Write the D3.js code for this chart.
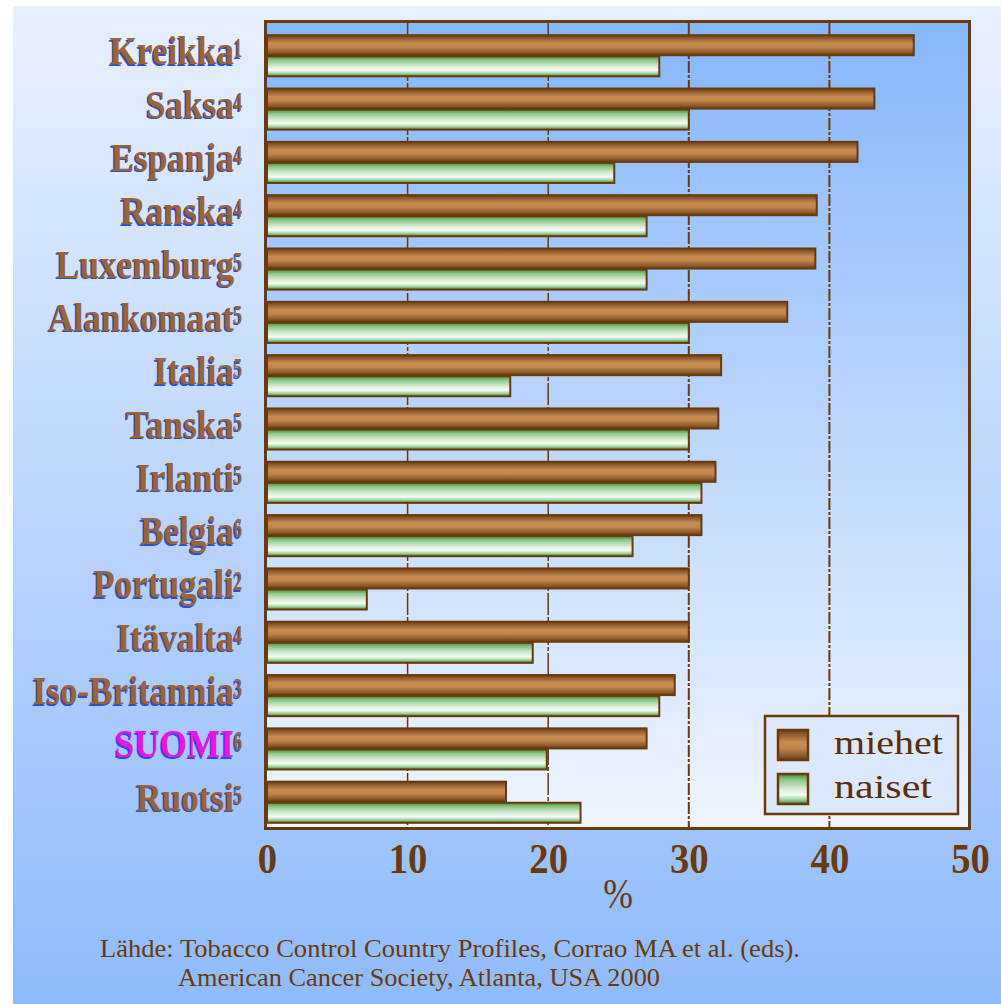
<!DOCTYPE html>
<html>
<head>
<meta charset="utf-8">
<script src="https://cdn.jsdelivr.net/npm/d3@7"></script>
<style>
    body { margin: 0; background: #ffffff; }
    svg { display: block; }
</style>
</head>
<body>
<svg class="chart"></svg>
<script>
var countries = ["Kreikka", "Saksa", "Espanja", "Ranska", "Luxemburg", "Alankomaat", "Italia", "Tanska",
    "Irlanti", "Belgia", "Portugali", "Itävalta", "Iso-Britannia", "SUOMI", "Ruotsi"];
var footnotes = ["1", "4", "4", "4", "5", "5", "5", "5", "5", "6", "2", "4", "3", "6", "5"];
var miehet = [46, 43.2, 42, 39.1, 39, 37, 32.3, 32.1, 31.9, 30.9, 30, 30, 29, 27, 17];
var naiset = [27.9, 30, 24.7, 27, 27, 30, 17.3, 30, 30.9, 26, 7.1, 18.9, 27.9, 19.9, 22.3];
var seriesNames = ["miehet", "naiset"];
var xTicks = [0, 10, 20, 30, 40, 50];
var axisTitle = "%";
var sourceLines = ["Lähde: Tobacco Control Country Profiles, Corrao MA et al. (eds).",
    "American Cancer Society, Atlanta, USA 2000"];

var width = 1001,
    height = 1004,
    brown = "#6b3a0a",
    labelBrown = "#9c6434",
    serif = "'Liberation Serif', 'Times New Roman', serif",
    data = countries.map(function(c, i) {
        return { name: c, note: footnotes[i], values: [miehet[i], naiset[i]] };
    });

var svg = d3.select(".chart")
    .attr("width", width)
    .attr("height", height);

var defs = svg.append("defs");

function gradient(id, stops) {
    var g = defs.append("linearGradient")
        .attr("id", id)
        .attr("x1", 0).attr("y1", 0)
        .attr("x2", 0).attr("y2", 1);
    stops.forEach(function(s) {
        g.append("stop").attr("offset", s[0]).attr("stop-color", s[1]);
    });
}

gradient("pageBg", [[0, "#e8f0fd"], [1, "#8fbbfc"]]);
gradient("plotBg", [[0, "#86b6fb"], [1, "#f0f5fe"]]);
gradient("gradMiehet", [[0, "#6c3e16"], [0.15, "#8e5c30"], [0.4, "#c88b51"], [0.6, "#c2864b"], [0.85, "#8c5b2e"], [1, "#6a3c14"]]);
gradient("gradNaiset", [[0, "#3f8f38"], [0.2, "#8fc68b"], [0.5, "#d6ebd5"], [0.7, "#f6fbf6"], [0.85, "#a6d2a2"], [1, "#3a8a30"]]);

// page background
svg.append("rect")
    .attr("x", 13).attr("y", 6)
    .attr("width", width - 13).attr("height", height - 6)
    .attr("fill", "url(#pageBg)");

var x = d3.scaleLinear()
    .domain([0, 50])
    .range([267, 970]);

var y = d3.scaleBand()
    .domain(countries)
    .range([23, 834])
    .paddingInner(0.21)
    .paddingOuter(0.21);

var ySub = d3.scaleBand()
    .domain(seriesNames)
    .range([0, y.bandwidth()]);

// plot area
svg.append("rect")
    .attr("x", 265.5).attr("y", 21.5)
    .attr("width", 704).attr("height", 807)
    .attr("fill", "url(#plotBg)");

svg.append("g")
    .selectAll("line")
    .data(xTicks.slice(1, -1))
    .enter().append("line")
    .attr("x1", function(d) { return x(d); })
    .attr("x2", function(d) { return x(d); })
    .attr("y1", 23)
    .attr("y2", 827)
    .attr("stroke", brown)
    .attr("stroke-width", function(d) { return d < 30 ? 1.5 : 2; })
    .attr("stroke-dasharray", function(d) { return d < 30 ? "22,2,4,2" : "12,2,3,2"; });

var group = svg.append("g")
    .selectAll("g")
    .data(data)
    .enter().append("g")
    .attr("transform", function(d) { return "translate(0," + y(d.name) + ")"; });

group.selectAll("rect")
    .data(function(d) { return d.values.map(function(v, i) { return { key: seriesNames[i], value: v }; }); })
    .enter().append("rect")
    .attr("x", x(0))
    .attr("y", function(d) { return ySub(d.key) + 1; })
    .attr("width", function(d) { return x(d.value) - x(0); })
    .attr("height", ySub.bandwidth() - 1)
    .attr("fill", function(d) { return d.key === "miehet" ? "url(#gradMiehet)" : "url(#gradNaiset)"; })
    .attr("stroke", brown)
    .attr("stroke-width", 2);

// frame
svg.append("rect")
    .attr("x", 265.5).attr("y", 21.5)
    .attr("width", 704).attr("height", 807)
    .attr("fill", "none")
    .attr("stroke", brown)
    .attr("stroke-width", 3);

// country labels with blue shadow, footnote number as a narrow superscript
function addLabel(g, dx, dy, shadow) {
    g.append("text")
        .attr("transform", "translate(" + (dx - 8) + "," + dy + ") scale(0.88,1)")
        .attr("text-anchor", "end")
        .attr("font-family", serif)
        .attr("font-weight", "bold")
        .attr("font-size", 40)
        .attr("fill", function(d) {
            if (shadow) return "#2c4fd8";
            return d.name === "SUOMI" ? "#ee14e6" : labelBrown;
        })
        .text(function(d) { return d.name; });
    g.append("text")
        .attr("transform", "translate(" + dx + "," + (dy - 7) + ") scale(0.62,1)")
        .attr("text-anchor", "end")
        .attr("font-family", serif)
        .attr("font-weight", "bold")
        .attr("font-size", 27)
        .attr("fill", shadow ? "#2c4fd8" : labelBrown)
        .text(function(d) { return d.note; });
}

var labels = svg.append("g")
    .selectAll("g")
    .data(data)
    .enter().append("g")
    .attr("transform", function(d) { return "translate(242," + (y(d.name) + y.bandwidth() / 2 + 9) + ")"; });

addLabel(labels, -1.2, 1.5, true);
addLabel(labels, 0, 0, false);

// x axis
var axis = svg.append("g")
    .attr("transform", "translate(0,830)")
    .call(d3.axisBottom(x).tickValues(xTicks).tickSize(0).tickFormat(d3.format("d")));

axis.select(".domain").remove();
axis.selectAll("text")
    .attr("y", 43)
    .attr("dy", null)
    .attr("transform", "scale(0.9,1)")
    .attr("fill", brown)
    .attr("font-family", serif)
    .attr("font-weight", "bold")
    .attr("font-size", 43);

svg.append("text")
    .attr("transform", "translate(618,908) scale(0.85,1)")
    .attr("text-anchor", "middle")
    .attr("fill", brown)
    .attr("font-family", serif)
    .attr("font-size", 42)
    .text(axisTitle);

// legend
var legend = svg.append("g")
    .attr("transform", "translate(765,716)");

legend.append("rect")
    .attr("width", 193)
    .attr("height", 98)
    .attr("fill", "#dce8fc")
    .attr("stroke", brown)
    .attr("stroke-width", 2.5);

var item = legend.selectAll("g")
    .data(seriesNames)
    .enter().append("g")
    .attr("transform", function(d, i) { return "translate(13," + (14 + i * 44) + ")"; });

item.append("rect")
    .attr("width", 30)
    .attr("height", 30)
    .attr("fill", function(d) { return d === "miehet" ? "url(#gradMiehet)" : "url(#gradNaiset)"; })
    .attr("stroke", brown)
    .attr("stroke-width", 2.5);

item.append("text")
    .attr("x", 56)
    .attr("y", 24)
    .attr("fill", "#5a2e08")
    .attr("font-family", serif)
    .attr("font-size", 34)
    .attr("textLength", function(d) { return d === "miehet" ? 109 : 98; })
    .attr("lengthAdjust", "spacingAndGlyphs")
    .text(function(d) { return d; });

// source
svg.append("g")
    .selectAll("text")
    .data(sourceLines)
    .enter().append("text")
    .attr("x", function(d, i) { return i === 0 ? 100 : 178; })
    .attr("y", function(d, i) { return 957 + i * 29; })
    .attr("fill", brown)
    .attr("font-family", serif)
    .attr("font-size", 25)
    .attr("textLength", function(d, i) { return i === 0 ? 700 : 482; })
    .attr("lengthAdjust", "spacingAndGlyphs")
    .text(function(d) { return d; });
</script>
</body>
</html>
